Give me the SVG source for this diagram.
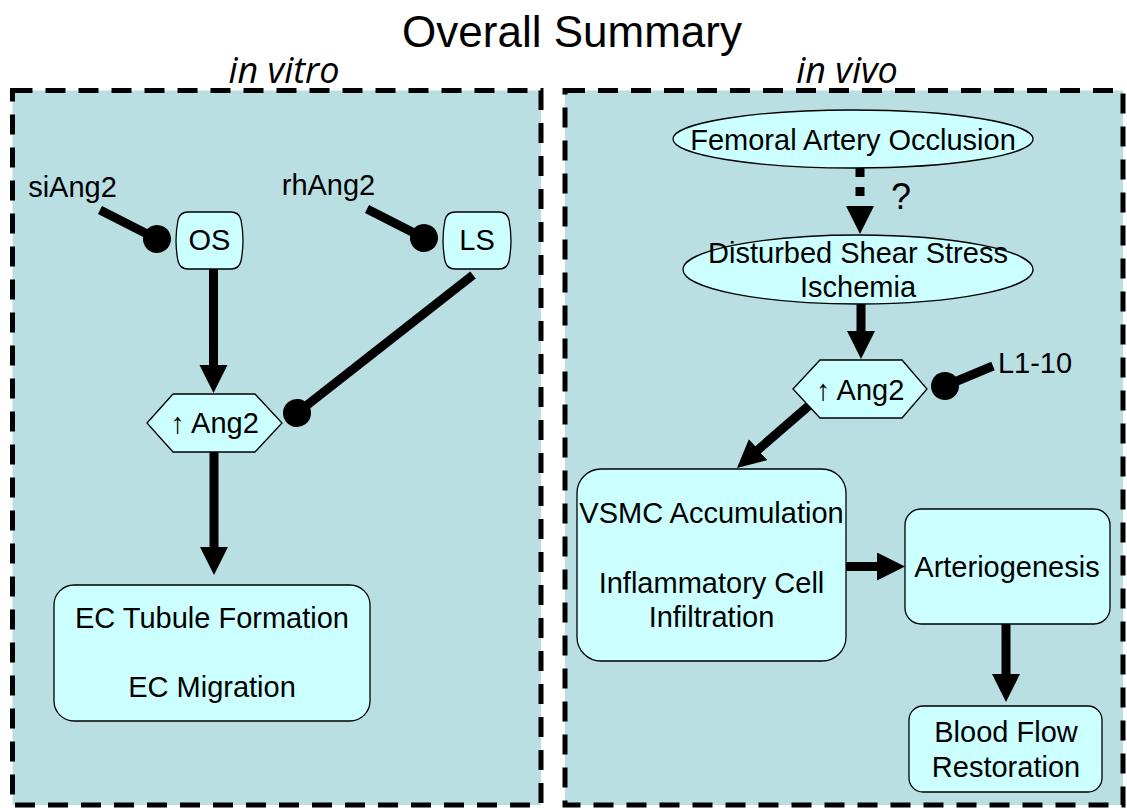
<svg xmlns="http://www.w3.org/2000/svg" width="1127" height="808" viewBox="0 0 1127 808">
  <style>
    .panel { fill: #B9DFE2; stroke: #000; stroke-width: 5; stroke-dasharray: 20 13; }
    .node { fill: #CCFFFF; stroke: #000; stroke-width: 1.3; }
    .lbl { font-family: "Liberation Sans", Arial, sans-serif; font-size: 29px; fill: #000; text-anchor: middle; }
    .q { font-family: "Liberation Sans", Arial, sans-serif; font-size: 36px; fill: #000; text-anchor: middle; }
    .hdr { font-family: "Open Sans", "Noto Sans", sans-serif; font-style: italic; font-size: 36px; fill: #000; text-anchor: middle; }
    .title { font-family: "Liberation Sans", Arial, sans-serif; font-size: 44px; fill: #000; text-anchor: middle; }
    .act { stroke: #000; stroke-width: 9; fill: none; marker-end: url(#head); }
    .inh { stroke: #000; stroke-width: 9; fill: none; marker-end: url(#dot); }
  </style>
  <defs>
    <marker id="head" markerUnits="userSpaceOnUse" markerWidth="30" markerHeight="30" refX="1" refY="14" orient="auto">
      <path d="M0,0 L28,14 L0,28 Z" fill="#000"/>
    </marker>
    <marker id="dot" markerUnits="userSpaceOnUse" markerWidth="30" markerHeight="30" refX="15" refY="15" orient="auto">
      <circle cx="15" cy="15" r="14" fill="#000"/>
    </marker>
  </defs>

  <rect width="1127" height="808" fill="#fff"/>

  <!-- titles -->
  <text class="title" x="572" y="47">Overall Summary</text>
  <text class="hdr" x="284" y="83">in vitro</text>
  <text class="hdr" x="847" y="83">in vivo</text>

  <!-- panels -->
  <rect id="panel-vitro" class="panel" x="12.5" y="90.5" width="528.5" height="714.5"/>
  <rect id="panel-vivo" class="panel" x="565" y="90.5" width="558" height="714.5"/>

  <!-- connectors -->
  <g id="connectors">
    <!-- in vitro -->
    <line class="inh" x1="100" y1="210" x2="157" y2="239"/>
    <line class="inh" x1="367" y1="209" x2="424" y2="238"/>
    <line class="inh" x1="473" y1="275" x2="297" y2="413"/>
    <line class="act" x1="213.5" y1="269" x2="213.5" y2="366"/>
    <line class="act" x1="214" y1="452" x2="214" y2="548"/>
    <!-- in vivo -->
    <line class="act" x1="860" y1="168" x2="860" y2="207" stroke-dasharray="9 10"/>
    <line class="act" x1="861" y1="304" x2="861" y2="332"/>
    <line class="inh" x1="993" y1="366" x2="945" y2="386"/>
    <line class="act" x1="812" y1="403" x2="757.4" y2="450.3"/>
    <line class="act" x1="846" y1="566.5" x2="878" y2="566.5"/>
    <line class="act" x1="1006" y1="624" x2="1006" y2="675"/>
    <text class="q" x="901" y="209">?</text>
  </g>

  <!-- in vitro nodes -->
  <g id="siAng2"><text class="lbl" x="72.5" y="197">siAng2</text></g>
  <g id="rhAng2"><text class="lbl" x="328.5" y="195">rhAng2</text></g>
  <g id="OS">
    <path class="node" d="M188,212 H231 Q239,212 241,220 Q245,240.5 241,261 Q239,269 231,269 H188 Q180,269 178,261 Q174,240.5 178,220 Q180,212 188,212 Z"/>
    <text class="lbl" x="209.5" y="250">OS</text>
  </g>
  <g id="LS">
    <path class="node" d="M455,212 H499 Q507,212 509,220 Q513,240.5 509,261 Q507,269 499,269 H455 Q447,269 445,261 Q441,240.5 445,220 Q447,212 455,212 Z"/>
    <text class="lbl" x="477" y="250">LS</text>
  </g>
  <g id="Ang2-vitro">
    <polygon class="node" points="147,423 173,394 255,394 282,423 255,452 173,452"/>
    <text class="lbl" x="214.5" y="433">↑ Ang2</text>
  </g>
  <g id="EC">
    <rect class="node" x="54" y="585" width="316" height="136" rx="20"/>
    <text class="lbl" x="212" y="628">EC Tubule Formation</text>
    <text class="lbl" x="212" y="697">EC Migration</text>
  </g>

  <!-- in vivo nodes -->
  <g id="femoral">
    <ellipse class="node" cx="853" cy="139" rx="180" ry="29"/>
    <text class="lbl" x="853" y="150">Femoral Artery Occlusion</text>
  </g>
  <g id="shear">
    <ellipse class="node" cx="858" cy="269.5" rx="175" ry="34.5"/>
    <text class="lbl" x="858" y="263">Disturbed Shear Stress</text>
    <text class="lbl" x="858" y="297">Ischemia</text>
  </g>
  <g id="Ang2-vivo">
    <polygon class="node" points="793,389 820,360 902,360 927,389 902,418 820,418"/>
    <text class="lbl" x="860" y="400">↑ Ang2</text>
  </g>
  <g id="L1-10"><text class="lbl" x="1035" y="373">L1-10</text></g>
  <g id="VSMC">
    <rect class="node" x="577" y="469" width="269" height="192" rx="24"/>
    <text class="lbl" x="711.5" y="523">VSMC Accumulation</text>
    <text class="lbl" x="711.5" y="593">Inflammatory Cell</text>
    <text class="lbl" x="711.5" y="627">Infiltration</text>
  </g>
  <g id="arteriogenesis">
    <rect class="node" x="905" y="509" width="205" height="115" rx="16"/>
    <text class="lbl" x="1007" y="577">Arteriogenesis</text>
  </g>
  <g id="bloodflow">
    <rect class="node" x="909" y="706" width="193" height="86" rx="14"/>
    <text class="lbl" x="1006" y="742">Blood Flow</text>
    <text class="lbl" x="1006" y="777">Restoration</text>
  </g>
</svg>
